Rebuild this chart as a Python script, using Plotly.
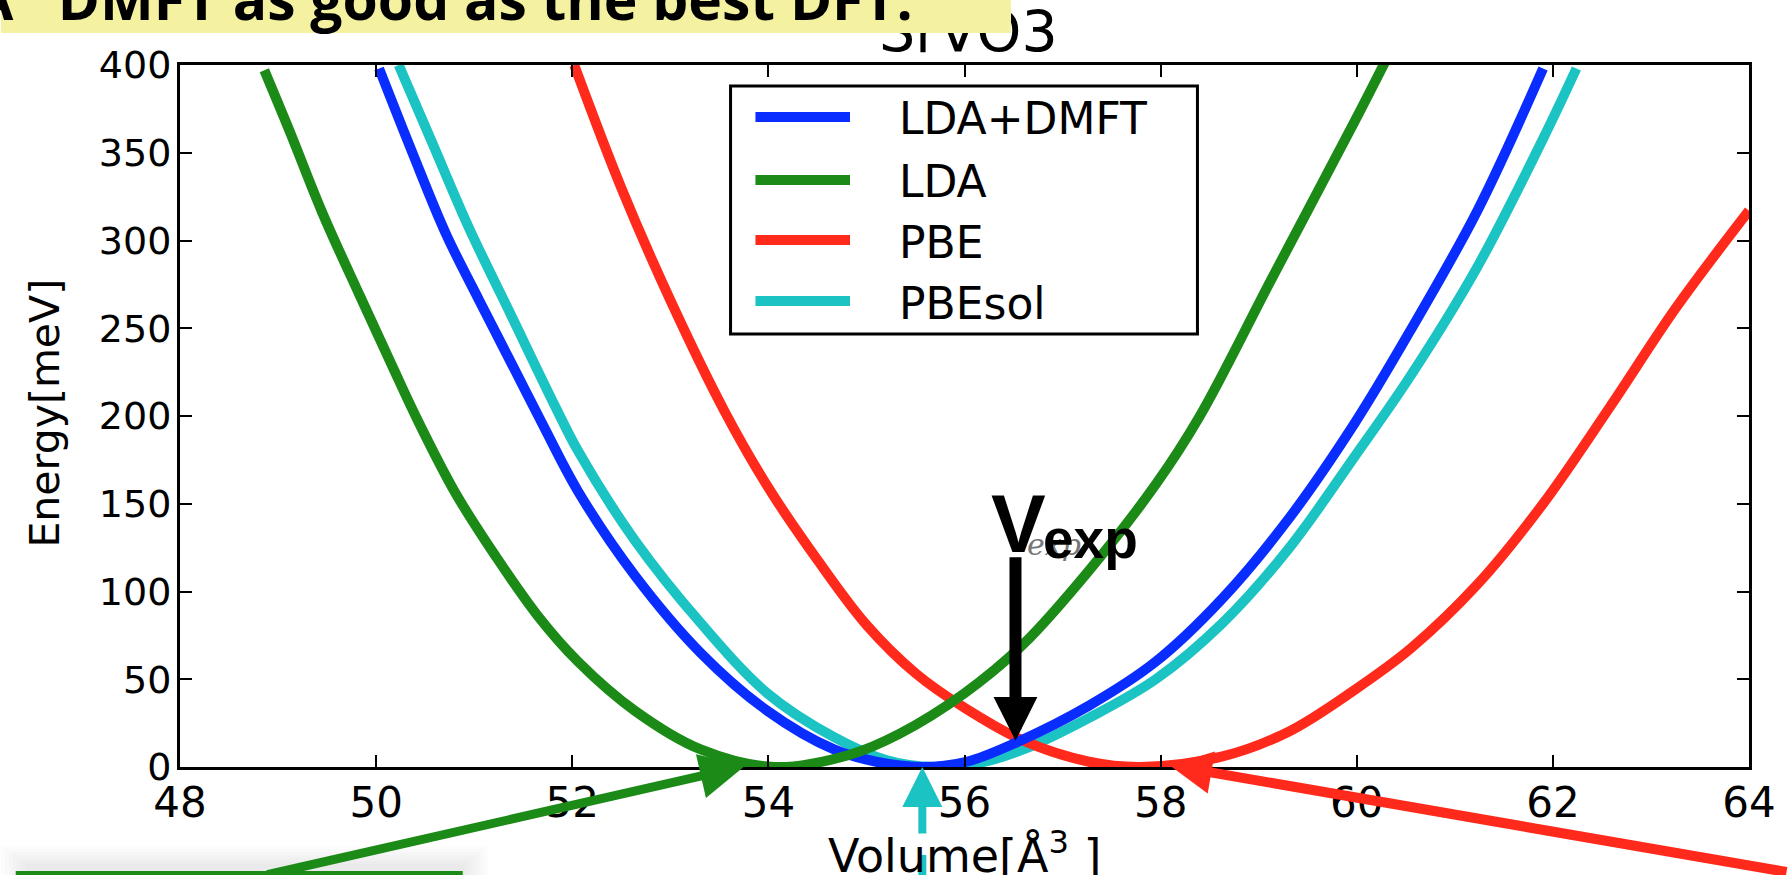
import plotly.graph_objects as go

# ---------------- data: E(V) curves for SrVO3 ----------------
lda_dmft_volume = [50.03, 50.37, 50.71, 51.05, 51.38, 51.70, 52.06, 52.64, 53.31, 53.99, 54.67, 55.10,
                   55.55, 56.02, 56.53, 57.27, 57.95, 58.63, 59.30, 59.98, 60.55, 61.23, 61.90]
lda_dmft_energy = [398, 350, 304, 266, 230, 195, 157, 109, 65, 32, 10, 3,
                   0, 3, 14, 35, 60, 96, 141, 196, 249, 317, 398]

lda_volume = [48.86, 49.12, 49.45, 49.83, 50.16, 50.42, 50.81, 51.22, 51.65, 52.06, 52.64, 53.31,
              54.06, 54.83, 55.34, 56.00, 56.60, 57.27, 57.95, 58.40, 59.14, 59.98, 60.30]
lda_energy = [397, 362, 316, 269, 229, 198, 156, 120, 86, 60, 32, 10,
              0, 7, 19, 42, 70, 112, 161, 200, 279, 368, 403]

pbe_volume = [52.02, 52.50, 53.00, 53.55, 53.99, 54.50, 55.00, 55.51, 56.02, 56.60, 57.27, 57.80,
              58.63, 59.30, 59.98, 60.55, 61.23, 61.90, 62.58, 63.26, 64.00]
pbe_energy = [400, 330, 266, 203, 160, 118, 81, 53, 33, 15, 3, 0,
              6, 20, 44, 67.5, 104, 150, 205, 262, 317]

pbesol_volume = [50.23, 50.57, 50.94, 51.38, 51.83, 52.06, 52.64, 53.31, 53.99, 54.67, 55.20, 55.70,
                 56.20, 56.60, 57.27, 57.95, 58.63, 59.30, 59.98, 60.55, 61.23, 61.90, 62.24]
pbesol_energy = [400, 356, 308, 257, 205, 180, 129, 82, 42, 17, 4, 0,
                 3, 10, 28, 50, 82, 124, 177, 223, 285, 358, 398]

series_names = ["LDA+DMFT", "LDA", "PBE", "PBEsol"]
series_colors = ["#0a2dff", "#1b8a17", "#ff2a1b", "#1cc3c3"]

x_ticks = [48, 50, 52, 54, 56, 58, 60, 62, 64]
y_ticks = [0, 50, 100, 150, 200, 250, 300, 350, 400]

# experimental volume and where the arrows point
v_exp = 56.52
e_at_v_exp = 15
lda_arrow_v = 53.76
pbesol_arrow_v = 55.57
pbe_arrow_v = 58.09

# ---------------- layout geometry (pixels) ----------------
W, H = 1788, 875
ML, MR, MT, MB = 180, 32, 65, 108
PW, PH = W - ML - MR, H - MT - MB


def px(xpix):
    return (xpix - ML) / PW


def py(ypix):
    return (H - MB - ypix) / PH


curves = {
    "LDA+DMFT": (lda_dmft_volume, lda_dmft_energy),
    "LDA": (lda_volume, lda_energy),
    "PBE": (pbe_volume, pbe_energy),
    "PBEsol": (pbesol_volume, pbesol_energy),
}
color_of = dict(zip(series_names, series_colors))

fig = go.Figure()
for name in ["PBEsol", "PBE", "LDA+DMFT", "LDA"]:
    v, e = curves[name]
    fig.add_trace(go.Scatter(
        x=v, y=e, mode="lines", name=name, showlegend=False,
        line=dict(color=color_of[name], width=10, shape="spline", smoothing=1.0),
        hoverinfo="skip",
    ))

shapes = []
annotations = []

# legend box drawn by hand
shapes.append(dict(type="rect", xref="paper", yref="paper",
                   x0=px(733), x1=px(1202), y0=py(334), y1=py(86),
                   line=dict(color="black", width=3), fillcolor="white", layer="above"))
row_y = [117, 180, 240, 301]
for name, yy in zip(series_names, row_y):
    shapes.append(dict(type="line", xref="paper", yref="paper",
                       x0=px(758), x1=px(853), y0=py(yy), y1=py(yy),
                       line=dict(color=color_of[name], width=10), layer="above"))
    annotations.append(dict(text=name, xref="paper", yref="paper", x=px(900), y=py(yy + 2),
                            xanchor="left", yanchor="middle", showarrow=False,
                            font=dict(family="DejaVu Sans", size=44, color="black")))

# soft shadow and green frame of the caption box at the bottom left
for i in range(7):
    shapes.append(dict(type="rect", xref="paper", yref="paper",
                       x0=px(0 + 4 * i), x1=px(490 - 4 * i), y0=py(900), y1=py(846 + 3 * i),
                       line=dict(width=0), fillcolor="rgba(0,0,0,0.012)", layer="above"))
shapes.append(dict(type="rect", xref="paper", yref="paper",
                   x0=px(17), x1=px(462), y0=py(900), y1=py(873),
                   line=dict(color="#1b8a17", width=4), fillcolor="white", layer="above"))

# lower part of the cyan arrow shaft, below the axis title
shapes.append(dict(type="line", xref="x", yref="paper",
                   x0=pbesol_arrow_v, x1=pbesol_arrow_v, y0=py(855), y1=py(885),
                   line=dict(color=color_of["PBEsol"], width=8), layer="above"))

# title, partly hidden behind the yellow banner
annotations.append(dict(text="SrVO3", xref="paper", yref="paper", x=px(972), y=py(32),
                        xanchor="center", yanchor="middle", showarrow=False,
                        font=dict(family="DejaVu Sans", size=57, color="black")))
# yellow banner and its headline
annotations.append(dict(text=" ", xref="paper", yref="paper",
                        x=px(0), y=py(0), xanchor="left", yanchor="top",
                        width=1010, height=33, bgcolor="#f4f1a0", borderpad=0, borderwidth=0,
                        showarrow=False, font=dict(size=10)))
annotations.append(dict(text="A\u00a0\u00a0 DMFT as good as the best DFT.", xref="paper", yref="paper",
                        x=px(-28), y=py(38), xanchor="left", yanchor="bottom",
                        borderpad=0, showarrow=False,
                        font=dict(family="Open Sans", size=57, color="black", weight="bold")))

# axis titles
annotations.append(dict(text="Energy[meV]", xref="paper", yref="paper", x=px(44), y=py(413),
                        xanchor="center", yanchor="middle", textangle=-90, showarrow=False,
                        font=dict(family="DejaVu Sans", size=41, color="black")))
annotations.append(dict(text="Volume[Å<sup>3</sup> ]", xref="paper", yref="paper", x=px(969), y=py(853),
                        xanchor="center", yanchor="middle", showarrow=False,
                        font=dict(family="DejaVu Sans", size=46, color="black")))

# V_exp label
annotations.append(dict(text="<i>exp</i>", xref="x", yref="y", x=56.91, y=127,
                        xanchor="center", yanchor="middle", showarrow=False,
                        font=dict(family="DejaVu Serif", size=30, color="#777777")))
annotations.append(dict(text="<b>V</b>", xref="x", yref="y", x=56.55, y=139,
                        xanchor="center", yanchor="middle", showarrow=False,
                        font=dict(family="Liberation Sans", size=82, color="black")))
annotations.append(dict(text="<b>exp</b>", xref="x", yref="y", x=57.28, y=130,
                        xanchor="center", yanchor="middle", showarrow=False,
                        font=dict(family="Liberation Sans", size=55, color="black")))

# arrows
annotations.append(dict(text="", x=v_exp, y=e_at_v_exp, xref="x", yref="y",
                        ax=0, ay=-185, showarrow=True, arrowhead=2, arrowsize=0.73,
                        arrowwidth=12, arrowcolor="black", standoff=0))
annotations.append(dict(text="", x=lda_arrow_v, y=0.5, xref="x", yref="y",
                        ax=-479, ay=114, showarrow=True, arrowhead=2, arrowsize=1.0,
                        arrowwidth=9, arrowcolor=color_of["LDA"], standoff=0))
annotations.append(dict(text="", x=pbesol_arrow_v, y=0, xref="x", yref="y",
                        ax=0, ay=68, showarrow=True, arrowhead=2, arrowsize=1.0,
                        arrowwidth=8, arrowcolor=color_of["PBEsol"], standoff=0))
annotations.append(dict(text="", x=pbe_arrow_v, y=1, xref="x", yref="y",
                        ax=626, ay=107, showarrow=True, arrowhead=2, arrowsize=0.85,
                        arrowwidth=10, arrowcolor=color_of["PBE"], standoff=0))

fig.update_layout(
    width=W, height=H,
    margin=dict(l=ML, r=MR, t=MT, b=MB, pad=0),
    paper_bgcolor="white", plot_bgcolor="white",
    showlegend=False,
    shapes=shapes,
    annotations=annotations,
)
fig.update_xaxes(
    range=[48, 64], tickvals=x_ticks, ticktext=[str(t) for t in x_ticks],
    showgrid=False, zeroline=False, showline=True, linecolor="black", linewidth=3,
    mirror="ticks", ticks="inside", ticklen=12, tickwidth=2, tickcolor="black",
    tickfont=dict(family="DejaVu Sans", size=42, color="black"), ticklabelstandoff=-3,
)
fig.update_yaxes(
    range=[0, 400], tickvals=y_ticks, ticktext=[str(t) for t in y_ticks],
    showgrid=False, zeroline=False, showline=True, linecolor="black", linewidth=3,
    mirror="ticks", ticks="inside", ticklen=12, tickwidth=2, tickcolor="black",
    tickfont=dict(family="DejaVu Sans", size=38, color="black"), ticklabelstandoff=-2,
)

fig.write_html("out.html")
